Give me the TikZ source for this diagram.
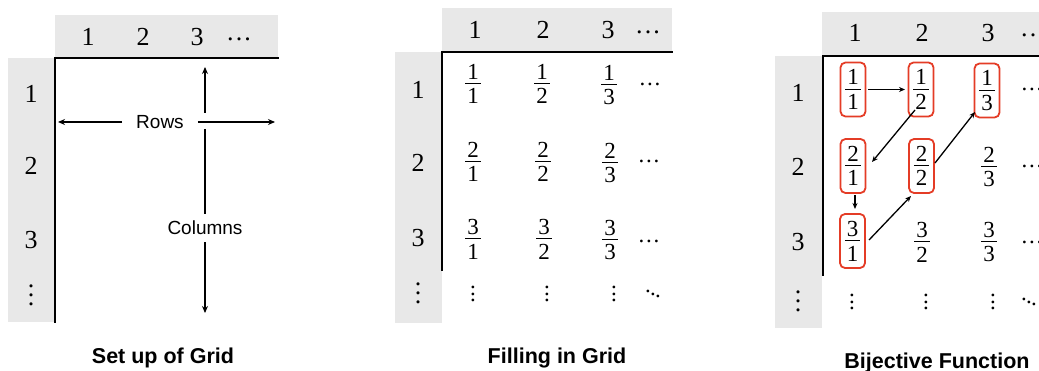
\documentclass[tikz,border=0pt]{standalone}
\usepackage{fontspec}
\setmainfont{Liberation Serif}
\setsansfont{Liberation Sans}
\usetikzlibrary{arrows.meta,calc}
\definecolor{hdrgray}{RGB}{232,232,232}
\definecolor{boxred}{RGB}{228,60,38}

% stacked fraction: numerator, rule, denominator
\newcommand{\fr}[2]{\vbox{\offinterlineskip\halign{\hfil\kern.08em##\kern.08em\hfil\cr
  #1\cr\noalign{\kern.17em\hrule height .05em\kern.19em}#2\cr}}}
% dot leaders built from full stops of the current font
\newcommand{\hdts}{\mbox{.\kern.08em.\kern.08em.}}
\newcommand{\vdts}[1][.2em]{\vbox{\offinterlineskip\hbox{.}\kern#1\hbox{.}\kern#1\hbox{.}}}
\newcommand{\ddts}{\mbox{\raisebox{.24em}{.}\kern-.03em\raisebox{.12em}{.}\kern-.03em.}}

\begin{document}
\begin{tikzpicture}[x=1pt,y=-1pt,
  axis/.style={line width=1.7pt, line cap=rect},
  num/.style={font=\fontsize{26}{30}\selectfont, inner sep=0},
  frac/.style={font=\fontsize{23}{27}\selectfont, inner sep=0},
  picked/.style={frac, draw=boxred, line width=1.8pt, rounded corners=5pt,
                 minimum width=25pt, minimum height=54pt},
  lbl/.style={font=\sffamily\fontsize{19}{22}\selectfont},
  caption/.style={font=\sffamily\bfseries\fontsize{21.5}{26}\selectfont, inner sep=0, anchor=base},
  arr/.style={line width=1.3pt, -{Stealth[length=7pt,width=6pt]}},
  sarr/.style={line width=1.3pt, -{Stealth[length=6pt,width=5pt]}},
  dots/.style={font=\fontsize{23}{27}\selectfont, inner sep=0}
]
\useasboundingbox (0,0) rectangle (1039,371);

% ---------- grid set-up ----------
\fill[hdrgray] (55,15) rectangle (278,58);
\fill[hdrgray] (8,58) rectangle (55,322);
\draw[axis] (278,58) -- (55,58) -- (55,322);
\node[num] (a-c1) at (88,37) {1};
\node[num] (a-c2) at (143,37) {2};
\node[num] (a-c3) at (197,37) {3};
\node[num] (a-cd) at (239,39) {\hdts};
\node[num] (a-r1) at (31,94) {1};
\node[num] (a-r2) at (31,166) {2};
\node[num] (a-r3) at (31,240) {3};
\node[num] (a-rd) at (31,295) {\vdts[.23em]};

\node[lbl, inner xsep=14pt, inner ysep=0pt] (rows) at (160,122) {Rows};
\coordinate (rowL) at (58,122);
\coordinate (rowR) at (275,122);
\draw[arr] (rows.west) -- (rowL);
\draw[arr] (rows.east) -- (rowR);

\node[lbl, inner xsep=0pt, inner ysep=7pt] (cols) at (205,228) {Columns};
\coordinate (colT) at (205,67);
\coordinate (colB) at (205,313);
\coordinate (gapA) at (205,113);
\coordinate (gapB) at (205,129);
\draw[arr] (gapA) -- (colT);
\draw[line width=1.3pt] (gapB) -- (cols.north);
\draw[arr] (cols.south) -- (colB);

\node[caption] (cap1) at (163,363) {Set up of Grid};

% ---------- filled grid ----------
\fill[hdrgray] (442,8) rectangle (672,52);
\fill[hdrgray] (395,52) rectangle (442,323);
\draw[axis] (672,52) -- (442,52) -- (442,270);
\node[num] (b-c1) at (475,30) {1};
\node[num] (b-c2) at (543,30) {2};
\node[num] (b-c3) at (608,30) {3};
\node[num] (b-cd) at (648,32) {\hdts};
\node[num] (b-r1) at (418,90) {1};
\node[num] (b-r2) at (418,163) {2};
\node[num] (b-r3) at (418,238) {3};
\node[num] (b-rd) at (418,293) {\vdts[.23em]};

\node[frac] (b11) at (473,84) {\fr{1}{1}};
\node[frac] (b12) at (542,84) {\fr{1}{2}};
\node[frac] (b13) at (609,85) {\fr{1}{3}};
\node[dots] (b1d) at (650,84) {\hdts};
\node[frac] (b21) at (473,162) {\fr{2}{1}};
\node[frac] (b22) at (543,162) {\fr{2}{2}};
\node[frac] (b23) at (610,163) {\fr{2}{3}};
\node[dots] (b2d) at (649,161) {\hdts};
\node[frac] (b31) at (473,239) {\fr{3}{1}};
\node[frac] (b32) at (544,239) {\fr{3}{2}};
\node[frac] (b33) at (610,240) {\fr{3}{3}};
\node[dots] (b3d) at (649,241) {\hdts};
\node[dots] (b41) at (473,294) {\vdts[.18em]};
\node[dots] (b42) at (547,294) {\vdts[.18em]};
\node[dots] (b43) at (614,294) {\vdts[.18em]};
\node[dots] (b44) at (653,294) {\ddts};

\node[caption] (cap2) at (557,363) {Filling in Grid};

% ---------- diagonal enumeration ----------
\fill[hdrgray] (822,12) rectangle (1039,56);
\fill[hdrgray] (775,56) rectangle (822,328);
\draw[axis] (1039,56) -- (823,56) -- (823,275);
\node[num] (c-c1) at (855,33) {1};
\node[num] (c-c2) at (922,33) {2};
\node[num] (c-c3) at (988,33) {3};
\node[num] (c-cd) at (1033,35) {\hdts};
\node[num] (c-r1) at (798,93) {1};
\node[num] (c-r2) at (798,167) {2};
\node[num] (c-r3) at (798,242) {3};
\node[num] (c-rd) at (798,301) {\vdts[.23em]};

\node[picked] (c11) at (853,89.5) {\fr{1}{1}};
\node[picked] (c12) at (921,89.5) {\fr{1}{2}};
\node[picked] (c13) at (987,90.5) {\fr{1}{3}};
\node[dots] (c1d) at (1032,89) {\hdts};
\node[picked] (c21) at (853,166) {\fr{2}{1}};
\node[picked] (c22) at (921.5,166) {\fr{2}{2}};
\node[frac] (c23) at (989,167) {\fr{2}{3}};
\node[dots] (c2d) at (1032,166) {\hdts};
\node[picked] (c31) at (852.5,241) {\fr{3}{1}};
\node[frac] (c32) at (922,242) {\fr{3}{2}};
\node[frac] (c33) at (989,242) {\fr{3}{3}};
\node[dots] (c3d) at (1032,242) {\hdts};
\node[dots] (c41) at (852,302) {\vdts[.18em]};
\node[dots] (c42) at (926,302) {\vdts[.18em]};
\node[dots] (c43) at (993,302) {\vdts[.18em]};
\node[dots] (c44) at (1029,302) {\ddts};

\draw[sarr] ($(c11)+(15,0)$) -- ($(c12)+(-16,0)$);
\draw[sarr] ($(c12)+(-6,20.5)$) -- ($(c21)+(19,-4)$);
\draw[sarr] ($(c21)+(2,29)$) -- ($(c31)+(2.5,-32)$);
\draw[sarr] ($(c31)+(16.5,-1)$) -- ($(c22)+(-10.5,30)$);
\draw[sarr] ($(c22)+(13.5,-3)$) -- ($(c13)+(-12,21.5)$);

\node[caption] (cap3) at (937,368) {Bijective Function};
\end{tikzpicture}
\end{document}
